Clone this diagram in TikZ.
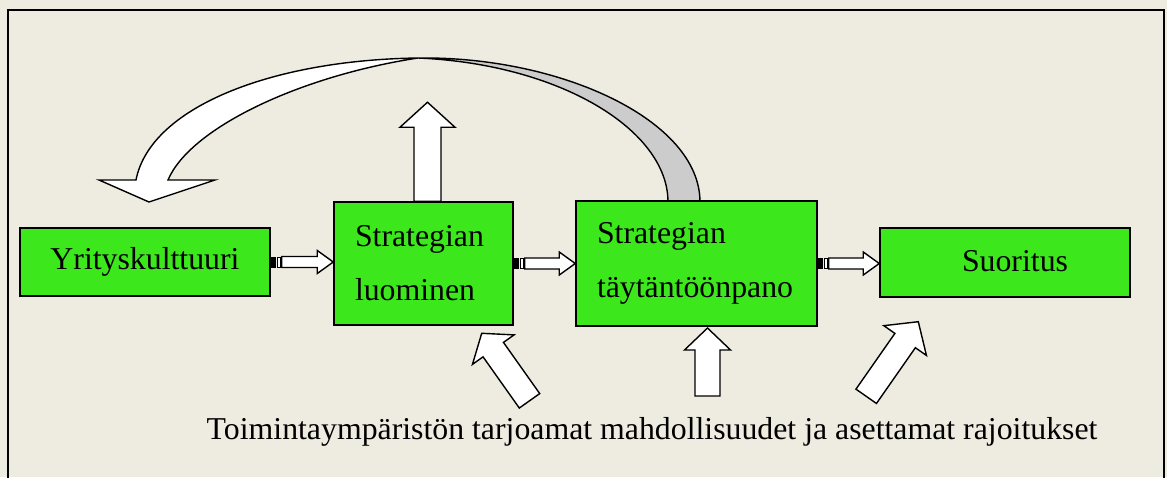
\documentclass[tikz,border=0pt]{standalone}
\usepackage{fontspec}
\setmainfont{Liberation Serif}
\usetikzlibrary{calc}
\definecolor{paper}{RGB}{238,235,224}
\definecolor{boxgreen}{RGB}{60,232,28}
\definecolor{ribbon}{RGB}{204,204,204}
\tikzset{
  stage/.style={draw=black, line width=1.5pt, fill=boxgreen, inner sep=0pt,
    font=\fontsize{31.8}{54}\selectfont},
  txt/.style={inner sep=0pt, font=\fontsize{31.8}{38}\selectfont},
  fat/.style={draw=black, line width=1.4pt, fill=white, line join=miter},
}
% block arrow: tail, tip, half shaft width, half head width, head length
\newcommand\fatarrow[5]{%
  \coordinate (fa-b) at ($(#2)!#5!(#1)$);
  \draw[fat] ($(#1)!#3!90:(#2)$) -- ($(fa-b)!#3!90:(#2)$) -- ($(fa-b)!#4!90:(#2)$)
    -- (#2) -- ($(fa-b)!#4!-90:(#2)$) -- ($(fa-b)!#3!-90:(#2)$)
    -- ($(#1)!#3!-90:(#2)$) -- cycle;}
% horizontal block arrow with a striped tail plug
\newcommand\tailarrow[2]{%
  \coordinate (ta-a) at (#1);
  \coordinate (ta-e) at (#2);
  \fill[black] ($(ta-a)+(0,-5.5)$) rectangle ($(ta-a)+(5.5,5.5)$);
  \draw[black, line width=1pt, fill=white] ($(ta-a)+(6.5,-5)$) rectangle ($(ta-a)+(10,5)$);
  \coordinate (ta-s) at ($(ta-a)+(11,0)$);
  \fatarrow{ta-s}{ta-e}{5.5pt}{11.5pt}{16pt}}
\begin{document}
\begin{tikzpicture}[x=1pt,y=-1pt]
  \useasboundingbox (0,0) rectangle (1167,477);
  \fill[paper] (0,0) rectangle (1167,477);
  \draw[line width=2.5pt] (8,500) -- (8,10) -- (1164,10) -- (1164,500);

  % feedback ribbon from implementation back to culture
  \draw[fat] (136,180) .. controls (150,108) and (270,60) .. (418,58)
    .. controls (300,76) and (190,128) .. (168,180)
    -- (215,180) -- (149,202) -- (99,180) -- cycle;
  \draw[fat, fill=ribbon] (418,58) .. controls (560,56) and (700,120) .. (700,202)
    -- (668,202) .. controls (668,130) and (560,64) .. (418,58) -- cycle;

  % stages
  \node[stage, minimum width=250pt, minimum height=68pt] (b1) at (145,262) {Yrityskulttuuri};
  \node[stage, minimum height=123pt, inner xsep=21pt, text width=137pt, align=left]
    (b2) at (423.5,263.5) {Strategian\\luominen};
  \node[stage, minimum height=125pt, inner xsep=21pt, text width=199pt, align=left]
    (b3) at (696.5,263.5) {Strategian\\täytäntöönpano};
  \node[stage, minimum width=250pt, minimum height=69pt] (b4) at (1005,262.5) {};
  \node[txt] (t4) at (1015,261) {Suoritus};

  \node[txt, anchor=base] (env) at (652,439)
    {Toimintaympäristön tarjoamat mahdollisuudet ja asettamat rajoitukset};

  % flow between stages
  \tailarrow{b1.east}{b2.west |- b1.east}
  \tailarrow{b2.east}{b3.west |- b2.east}
  \tailarrow{b3.east}{b4.west |- b3.east}

  % output of strategy creation
  \coordinate (up-s) at ($(b2.north)+(4,0)$);
  \coordinate (up-e) at ($(b2.north)+(4,-99)$);
  \fatarrow{up-s}{up-e}{13.5pt}{27.5pt}{25pt}

  % environment influences
  \coordinate (e1-s) at (529.5,400.8);
  \coordinate (e1-e) at (481.7,333.3);
  \coordinate (e2-s) at (707.5,396);
  \coordinate (e2-e) at (707.5,328);
  \coordinate (e3-s) at (866.2,396.3);
  \coordinate (e3-e) at (918.3,321.7);
  \fatarrow{e1-s}{e1-e}{12.5pt}{25.5pt}{20pt}
  \fatarrow{e2-s}{e2-e}{12.5pt}{23pt}{22pt}
  \fatarrow{e3-s}{e3-e}{12.5pt}{26pt}{23pt}
\end{tikzpicture}
\end{document}
